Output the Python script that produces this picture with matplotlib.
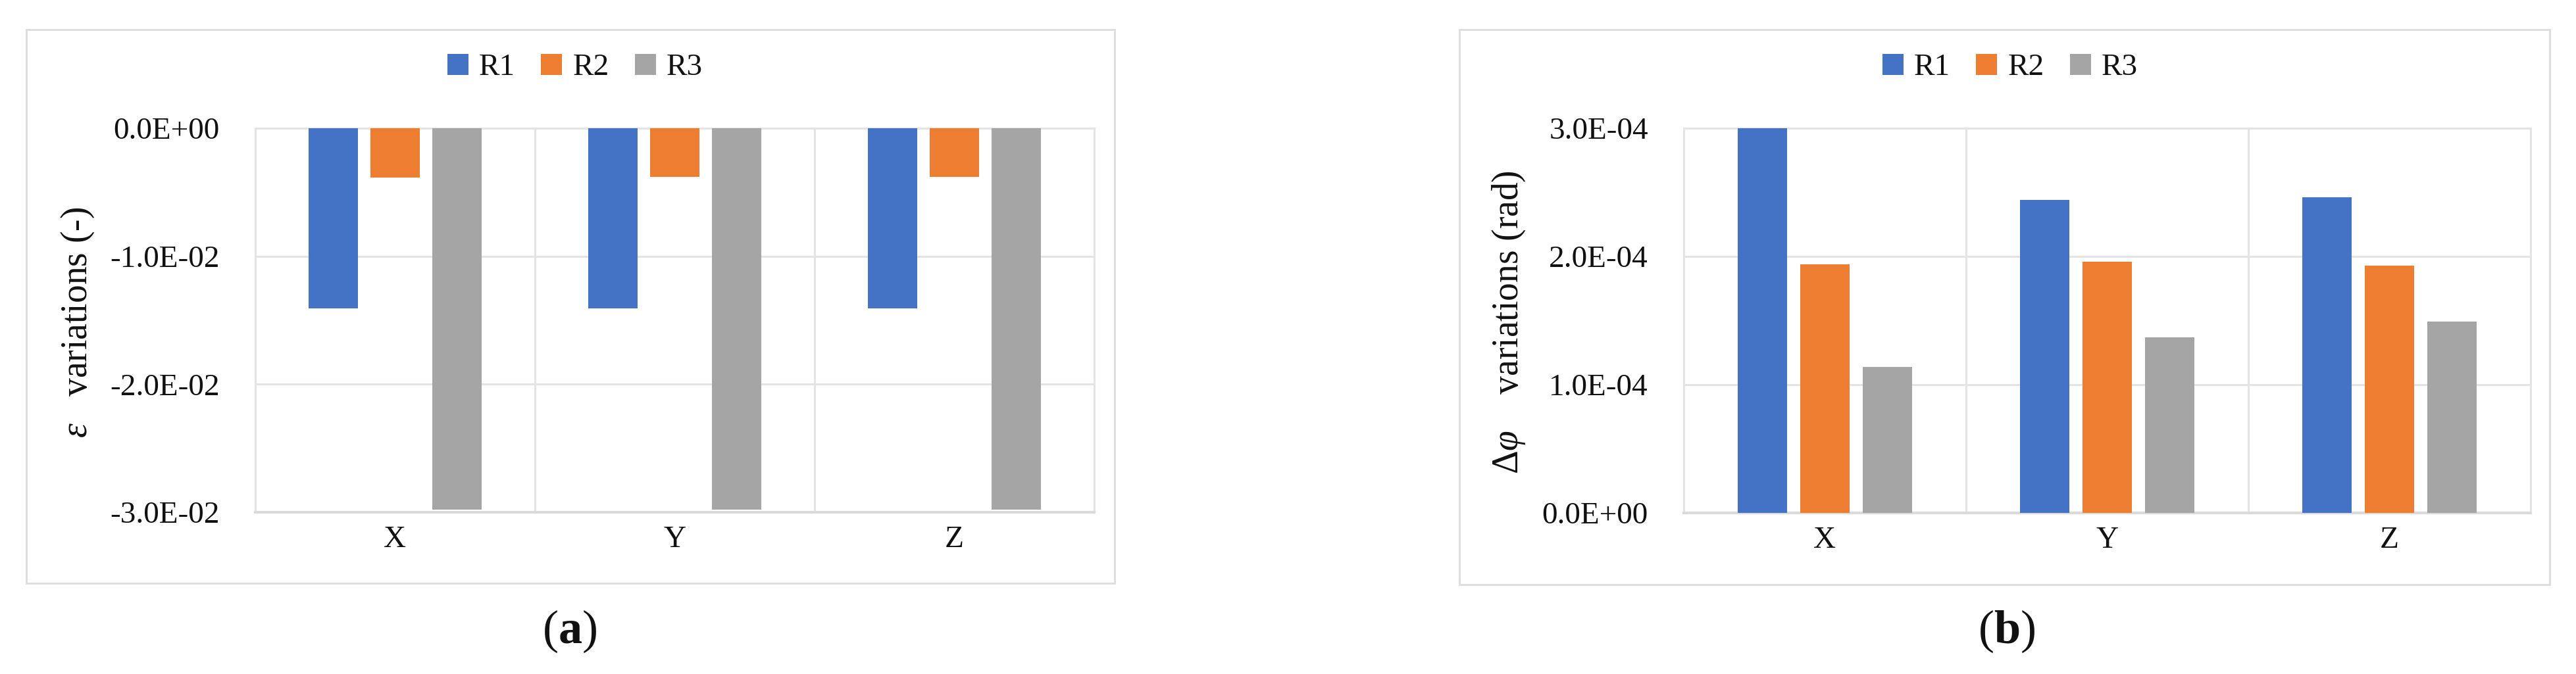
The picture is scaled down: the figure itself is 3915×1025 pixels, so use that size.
import numpy as np
import matplotlib
matplotlib.use('Agg')
import matplotlib.pyplot as plt
from matplotlib.patches import Rectangle
from matplotlib.ticker import FuncFormatter, FixedLocator

plt.rcParams['font.family'] = 'Liberation Serif'
plt.rcParams['mathtext.fontset'] = 'custom'
plt.rcParams['mathtext.rm'] = 'Liberation Serif'
plt.rcParams['mathtext.it'] = 'Liberation Serif:italic'
plt.rcParams['mathtext.bf'] = 'Liberation Serif:bold'

# data
categories = ['X', 'Y', 'Z']
series = ['R1', 'R2', 'R3']
eps_r1 = [-1.41e-2, -1.41e-2, -1.41e-2]
eps_r2 = [-3.85e-3, -3.82e-3, -3.79e-3]
eps_r3 = [-2.98e-2, -2.98e-2, -2.98e-2]
phi_r1 = [3.0e-4, 2.44e-4, 2.46e-4]
phi_r2 = [1.94e-4, 1.96e-4, 1.93e-4]
phi_r3 = [1.14e-4, 1.37e-4, 1.49e-4]
eps_ticks = [0.0, -1.0e-2, -2.0e-2, -3.0e-2]
phi_ticks = [0.0, 1.0e-4, 2.0e-4, 3.0e-4]

colors = ['#4472C4', '#ED7D31', '#A5A5A5']
grid_col = '#E4E4E4'
txt_col = '#111111'
W, H = 3916, 1025

fig = plt.figure(figsize=(W / 100, H / 100), dpi=100)
fig.patch.set_facecolor('white')


def px_box(l, t, r, b):
    return [l / W, 1 - b / H, (r - l) / W, (b - t) / H]


def draw_panel(box, frame, vals, ticks, ylim, ylabel, ylabel_x, legend_x, tag, tag_x):
    # outer chart frame
    fl, ft, fr, fb = frame
    fig.add_artist(Rectangle((fl / W, 1 - fb / H), (fr - fl) / W, (fb - ft) / H,
                             transform=fig.transFigure, fill=False,
                             edgecolor='#DEDEDE', lw=2.2))
    ax = fig.add_axes(px_box(*box))
    x = np.arange(len(categories))
    offs = [-0.222, 0.0, 0.222]
    handles = []
    for v, o, c, name in zip(vals, offs, colors, series):
        h = ax.bar(x + o, v, width=0.176, color=c, label=name, zorder=3)
        handles.append(h)
    ax.set_xlim(-0.5, len(categories) - 0.5)
    ax.set_ylim(*ylim)
    ax.yaxis.set_major_locator(FixedLocator(ticks))
    ax.yaxis.set_major_formatter(FuncFormatter(lambda v, p: f'{v:.1E}'))
    ax.set_xticks(x)
    ax.set_xticklabels(categories)
    ax.xaxis.set_minor_locator(FixedLocator([0.5, 1.5]))
    ax.grid(axis='y', which='major', color=grid_col, lw=2.2, zorder=0)
    ax.grid(axis='x', which='minor', color=grid_col, lw=2.2, zorder=0)
    ax.tick_params(axis='y', length=0, pad=39, labelsize=34, labelcolor=txt_col)
    ax.tick_params(axis='x', which='both', length=0, pad=15, labelsize=34, labelcolor=txt_col)
    for s in ax.spines.values():
        s.set_color(grid_col)
        s.set_linewidth(2.2)
    ax.spines['bottom'].set_color('#DADADA')
    ax.spines['bottom'].set_linewidth(3)
    fig.text(ylabel_x / W, 1 - 490 / H, ylabel, rotation=90, ha='center', va='center',
             fontsize=40, color=txt_col)
    fig.legend(handles=handles, loc='center', bbox_to_anchor=(legend_x / W, 1 - 103 / H),
               ncol=3, frameon=False, fontsize=34, handlelength=0.68, handleheight=0.68,
               handletextpad=0.34, columnspacing=0.83, labelcolor=txt_col)
    fig.text(tag_x / W, 1 - 960 / H, tag, ha='center', va='center', fontsize=52, color=txt_col)
    return ax


draw_panel((388, 195, 1663, 779), (40, 45, 1694, 887),
           [eps_r1, eps_r2, eps_r3], eps_ticks, (-3.0e-2, 0.0),
           r'$\varepsilon$   variations (-)', 118, 874, r'($\mathbf{a}$)', 866)
draw_panel((2559, 195, 3846, 780), (2218, 45, 3875, 889),
           [phi_r1, phi_r2, phi_r3], phi_ticks, (0.0, 3.0e-4),
           r'$\Delta\varphi$    variations (rad)', 2293, 3055, r'($\mathbf{b}$)', 3050)

fig.savefig('out.png', dpi=100, facecolor='white')
